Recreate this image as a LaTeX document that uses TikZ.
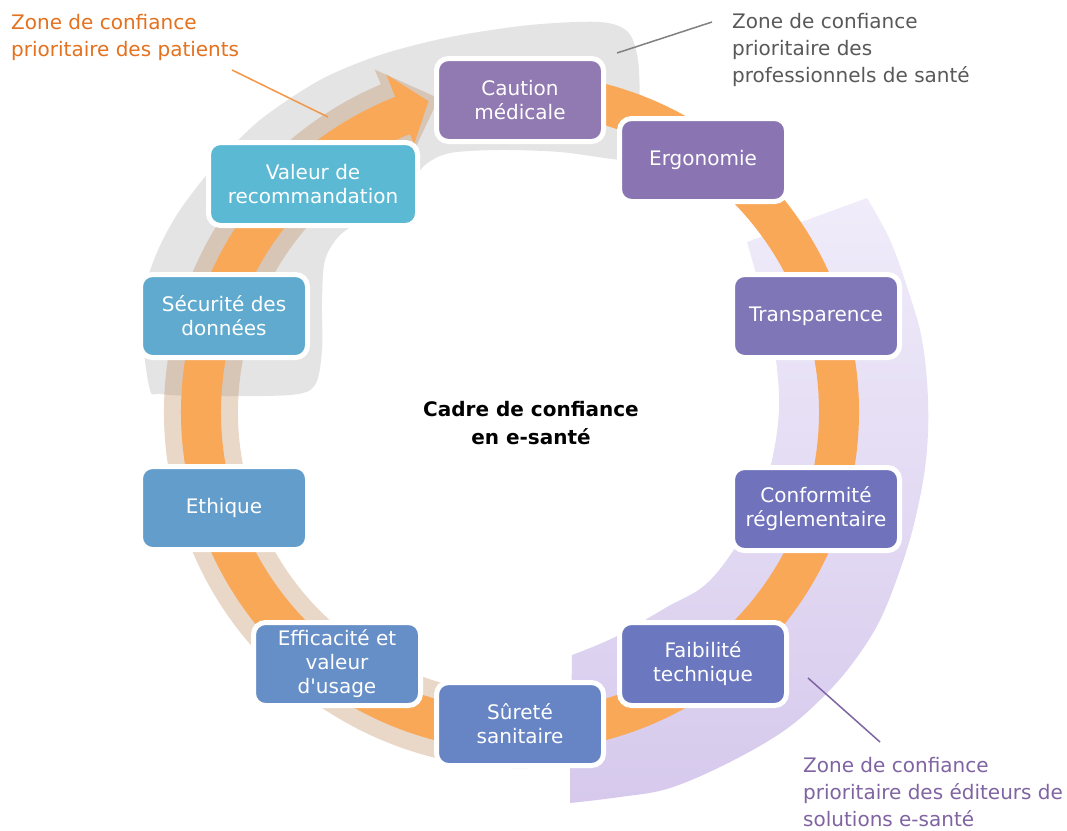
\documentclass[tikz,border=0pt]{standalone}
\usepackage{fontspec}
\setmainfont{DejaVu Sans}[Ligatures=TeXOff]
\usetikzlibrary{calc}
\definecolor{grayzone}{RGB}{228,228,228}
\definecolor{halo}{RGB}{190,135,90}
\definecolor{pzTop}{RGB}{240,236,250}
\definecolor{pzBot}{RGB}{214,201,236}
\definecolor{ringC}{RGB}{249,168,87}
\definecolor{cCaution}{RGB}{145,121,177}
\definecolor{cErgo}{RGB}{138,117,178}
\definecolor{cTrans}{RGB}{127,118,183}
\definecolor{cConf}{RGB}{112,114,187}
\definecolor{cFaib}{RGB}{107,119,190}
\definecolor{cSur}{RGB}{103,133,196}
\definecolor{cEff}{RGB}{103,143,199}
\definecolor{cEth}{RGB}{99,157,203}
\definecolor{cSec}{RGB}{95,170,206}
\definecolor{cVal}{RGB}{91,185,211}
\definecolor{txtOrange}{RGB}{228,113,30}
\definecolor{lnOrange}{RGB}{243,150,70}
\definecolor{txtGray}{RGB}{89,89,89}
\definecolor{lnGray}{RGB}{128,128,128}
\definecolor{txtPurple}{RGB}{128,100,162}
\begin{document}
\begin{tikzpicture}[x=1pt,y=-1pt,
  box/.style={draw=white, line width=5pt, rounded corners=12pt,
    minimum width=167pt, minimum height=83pt, inner sep=2pt,
    align=center, text=white, font=\fontsize{20}{24}\selectfont},
  note/.style={anchor=north west, align=left, inner sep=0pt,
    font=\fontsize{20}{27}\selectfont},
  ring/.style={draw=ringC, line width=40pt},
  leader/.style={line width=1.5pt}]
\useasboundingbox[fill=white] (0,0) rectangle (1067,830);
\coordinate (C) at (520,412);

% professionals zone (gray)
\fill[grayzone] plot[smooth cycle, tension=0.5] coordinates {
  (150,390) (143,340) (145,290) (158,250) (180,210) (215,165) (260,120)
  (320,80) (380,55) (450,37) (530,25) (600,22) (628,32) (638,60)
  (640,110) (640,156) (622,160) (560,152) (500,150) (450,153) (425,165)
  (405,190) (370,215) (340,235) (325,260) (322,300) (322,350) (315,385)
  (290,395) (200,396) (160,394)};

% patients zone (halo around the arrow)
\fill[halo, fill opacity=0.33]
  ($(C)+(75:356)$) arc[start angle=75, end angle=247, radius=356]
  -- ($(C)+(247:372)$) -- ($(C)+(255.5:324)$) -- ($(C)+(247:278)$)
  -- ($(C)+(247:282)$) arc[start angle=247, end angle=75, radius=282]
  -- cycle;

% editors zone (lavender)
\shade[top color=pzTop, bottom color=pzBot]
  plot[smooth, tension=0.6] coordinates {(867,198) (890,240) (908,290)
    (922,340) (928,400) (926,460) (915,520) (900,570) (880,620) (855,660)
    (825,695) (785,730) (730,762) (670,788) (620,797) (570,803)}
  -- (572,655)
  -- plot[smooth, tension=0.6] coordinates {(572,655) (615,637) (667,607)
    (705,585) (735,548) (758,505) (772,460) (779,410) (776,360) (766,310)
    (755,270) (747,242)}
  -- cycle;

% circular arrow
\draw[ring] ($(C)+(-85:319)$) arc[start angle=-85, end angle=248.8, radius=319];
\fill[ringC] ($(C)+(248.4:363)$) -- ($(C)+(253.6:324)$) -- ($(C)+(248.4:288)$) -- cycle;

% boxes
\node[box, fill=cCaution] (caution) at (520,100) {Caution\\médicale};
\node[box, fill=cErgo] (ergo) at (703,160) {Ergonomie};
\node[box, fill=cTrans] (trans) at (816,316) {Transparence};
\node[box, fill=cConf] (conf) at (816,509) {Conformité\\réglementaire};
\node[box, fill=cFaib] (faib) at (703,664) {Faibilité\\technique};
\node[box, fill=cSur] (sur) at (520,724) {Sûreté\\sanitaire};
\node[box, fill=cEff] (eff) at (337,664) {Efficacité et\\valeur\\d'usage};
\node[box, fill=cEth] (eth) at (224,508) {Ethique};
\node[box, fill=cSec] (sec) at (224,316) {Sécurité des\\données};
\node[box, fill=cVal, minimum width=209pt] (val) at (313,184) {Valeur de\\recommandation};

% title
\node[font=\bfseries\fontsize{20}{28}\selectfont, align=center] (title) at (531,423) {Cadre de confiance\\en e-santé};

% annotations
\node[note, text=txtOrange] (patients) at (11,14) {Zone de confiance\\prioritaire des patients};
\node[note, text=txtGray] (pros) at (732,13) {Zone de confiance\\prioritaire des\\professionnels de santé};
\node[note, text=txtPurple] (editeurs) at (803,757) {Zone de confiance\\prioritaire des éditeurs de\\solutions e-santé};

\coordinate (pA) at (232,70);
\coordinate (pB) at (328,117);
\coordinate (gA) at (712,22);
\coordinate (gB) at (617,53);
\coordinate (eA) at (880,742);
\coordinate (eB) at (808,678);
\draw[leader, lnOrange] (pA) -- (pB);
\draw[leader, lnGray] (gA) -- (gB);
\draw[leader, txtPurple] (eA) -- (eB);
\end{tikzpicture}
\end{document}
